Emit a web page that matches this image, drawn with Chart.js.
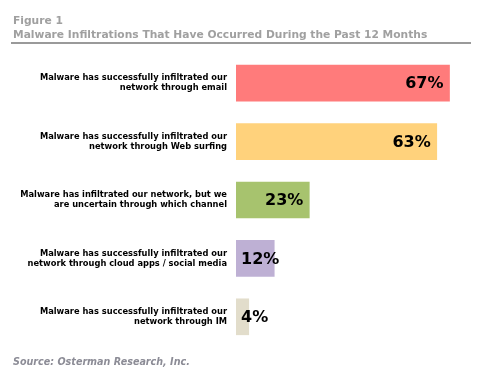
<!DOCTYPE html>
<html><head><meta charset="utf-8">
<script src="https://cdn.jsdelivr.net/npm/chart.js@4/dist/chart.umd.min.js"></script>
<style>html,body{margin:0;padding:0;background:#fff}#wrap{width:481px;height:383px;position:relative}</style>
</head><body><div id="wrap"><canvas id="c" width="481" height="383"></canvas></div>
<script>
const figureLabel = "Figure 1";
const titleText = "Malware Infiltrations That Have Occurred During the Past 12 Months";
const sourceText = "Source: Osterman Research, Inc.";
const categories = [
  ["Malware has successfully infiltrated our", "network through email"],
  ["Malware has successfully infiltrated our", "network through Web surfing"],
  ["Malware has infiltrated our network, but we", "are uncertain through which channel"],
  ["Malware has successfully infiltrated our", "network through cloud apps / social media"],
  ["Malware has successfully infiltrated our", "network through IM"]
];
const values = [67, 63, 23, 12, 4];
const barColors = ["#FF7B7B", "#FFD27C", "#A7C36E", "#BEB0D4", "#E2DDCB"];
const FONT = "'DejaVu Sans', Verdana, sans-serif";

const decor = {
  id: 'decor',
  afterDraw(chart) {
    const ctx = chart.ctx;
    ctx.save();
    ctx.fillStyle = '#A0A0A0';
    ctx.font = 'bold 10.7px ' + FONT;
    ctx.textBaseline = 'middle';
    ctx.textAlign = 'left';
    ctx.fillText(figureLabel, 13, 21);
    ctx.fillText(titleText, 13, 35);
    ctx.fillStyle = '#9A9A9A';
    ctx.fillRect(11, 42, 460, 2);
    ctx.fillStyle = '#8C8C96';
    ctx.font = 'italic bold 9.6px ' + FONT;
    ctx.fillText(sourceText, 13, 362);
    // value labels
    const meta = chart.getDatasetMeta(0);
    ctx.fillStyle = '#000';
    ctx.font = 'bold 16px ' + FONT;
    meta.data.forEach((bar, i) => {
      const txt = values[i] + '%';
      const w = ctx.measureText(txt).width;
      let x = bar.x - 6 - w;
      if (x < bar.base + 5) x = bar.base + 5;
      ctx.textAlign = 'left';
      ctx.fillText(txt, x, bar.y + 1);
    });
    ctx.restore();
  }
};

new Chart(document.getElementById('c'), {
  type: 'bar',
  data: {
    labels: categories,
    datasets: [{
      data: values,
      backgroundColor: barColors,
      borderWidth: 0,
      barThickness: 36
    }]
  },
  options: {
    indexAxis: 'y',
    responsive: false,
    animation: false,
    devicePixelRatio: 1,
    layout: { padding: { top: 54, bottom: 37, left: 0, right: 6 } },
    plugins: { legend: { display: false }, tooltip: { enabled: false } },
    scales: {
      x: { display: false, min: 0, max: 75 },
      y: {
        grid: { display: false, drawTicks: false },
        border: { display: false },
        ticks: {
          color: '#000',
          padding: 9,
          font: { family: FONT, weight: 'bold', size: 8.3, lineHeight: 1.2 }
        },
        afterFit(scale) { scale.width = 236; }
      }
    }
  },
  plugins: [decor]
});
</script></body></html>
